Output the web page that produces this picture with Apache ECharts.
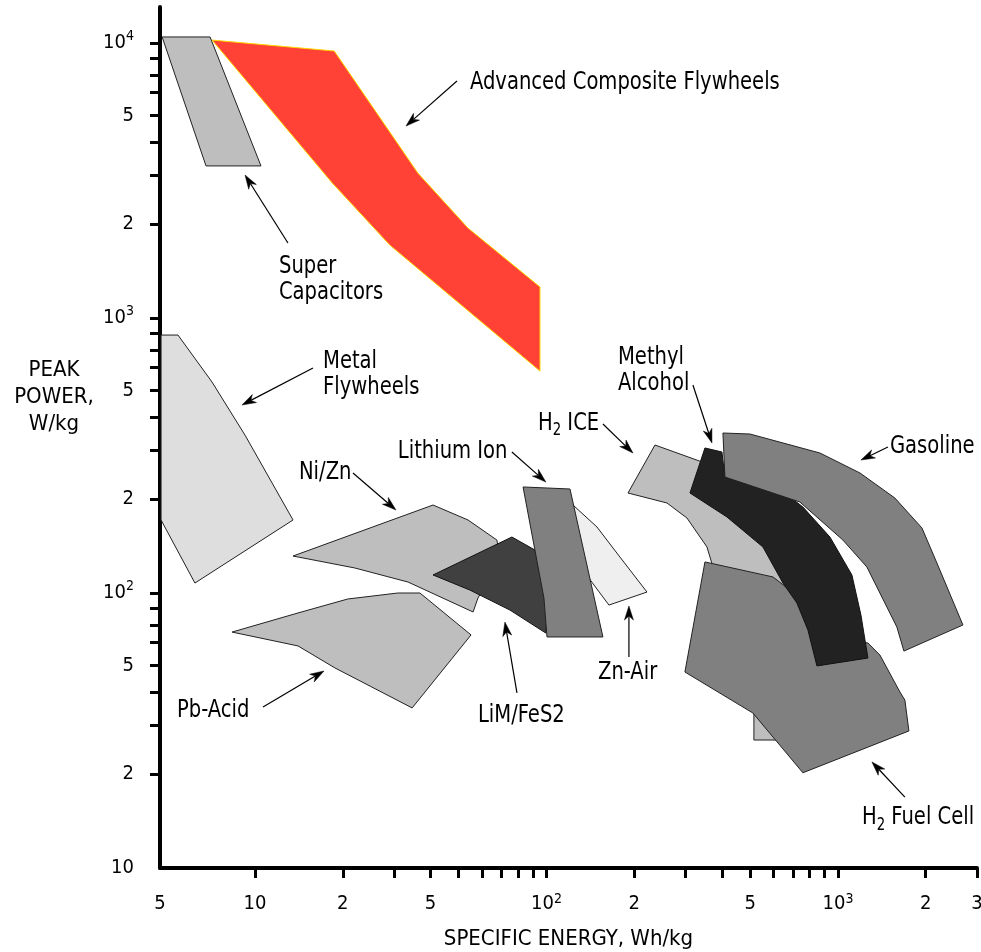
<!DOCTYPE html>
<html><head><meta charset="utf-8">
<script src="https://cdn.jsdelivr.net/npm/echarts@6/dist/echarts.min.js"></script>
<style>html,body{margin:0;padding:0;background:#fff}#c{width:981px;height:952px}</style>
</head><body><div id="c"></div>
<script>
const FONT = "'DejaVu Sans Condensed','DejaVu Sans',sans-serif";

// Region outlines: [specific energy (Wh/kg), peak power (W/kg)]
const superCapacitors = [[4.80,10520],[7.01,10520],[10.48,3573],[6.79,3573]];
const compositeFlywheels = [[7.12,10250],[18.7,9354],[36.2,3365],[53.8,2123],[95.0,1297],[95.0,641],[29.0,1841],[18.4,3097]];
const metalFlywheels = [[4.76,867],[5.44,867],[7.12,585],[9.24,375],[13.5,184.3],[6.22,108.7],[4.76,184.3]];
const pbAcid = [[8.34,72.1],[14.04,84.6],[20.8,95.1],[30.9,100],[36.8,100],[55.1,70.4],[34.6,38.2],[18.8,53.4],[14.04,64.2]];
const niZn = [[13.5,136.3],[40.8,208.9],[53.8,184.3],[67.6,155.8],[69.3,131.8],[58.2,95.9],[56.0,85.3],[33.5,109.6],[22.0,123.3]];
const limFeS2 = [[40.8,116.3],[76.1,159.8],[91.3,143.3],[101.2,94.3],[99.5,71.5],[74.9,86.7],[54.6,102.5]];
const znAir = [[123.3,208.9],[149.0,173.8],[178.6,135.2],[221.2,100.8],[163.8,90.4],[138.8,114.4],[125.2,143.3]];
const lithiumIon = [[83.1,243.0],[120.4,238.9],[156.2,69.2],[100.4,69.2],[98.0,95.9]];
const h2ICE = [[235.6,345.3],[349.7,297.0],[479.7,217.8],[632.3,131.8],[740.4,79.8],[684.2,44.4],[617.5,29.2],[514.8,29.2],[514.8,40.8],[461.1,62.0],[393.6,102.5],[355.3,147.0],[303.3,187.4],[259.0,212.5],[190.4,231.0]];
const h2FuelCell = [[349.7,129.7],[598.3,114.4],[684.2,102.5],[833.7,79.8],[1099,67.5],[1267,65.8],[1393,59.5],[1632,43.65],[1697,40.8],[1752,31.5],[758.2,22.2],[510.8,36.6],[298.5,51.6]];
const methylAlcohol = [[349.7,336.8],[399.9,325.7],[409.5,264.1],[684.2,223.4],[758.2,205.5],[938.6,159.8],[1116.6,116.3],[1199,83.2],[1267,58.0],[847.1,54.3],[788.9,73.4],[723.1,92.0],[647.5,108.7],[552.9,147.0],[416.0,189.0],[310.6,231.0]];
const gasoline = [[403.1,381.8],[498.9,378.6],[867.4,322.9],[1190,273.2],[1568,221.5],[1942,172.4],[2185,128.6],[2684,76.5],[1684,61.5],[1593,75.2],[1257,124.3],[1040,155.8],[740.4,214.2],[409.5,264.1]];

// Axis ticks and labels
const xTickValues = [10,20,30,40,50,60,70,80,90,100,200,300,400,500,600,700,800,900,1000,2000,2999.9];
const xLabelValues = [4.7201,10,20,40,100,200,500,1000,2000,2999.9];
const xLabelTexts = ['5','10','2','5','10{sup|2}','2','5','10{sup|3}','2','3'];
const yTickMantissas = [2.2,3.3,4.35,5.45,6.6,7.65,8.8];
const yDecades = [10,100,1000];
const yMajorTicks = [100,1000,10000];
const yLabelValues = [10.001,22,54.5,100,220,545,1000,2200,5450,10000];
const yLabelTexts = ['10','2','5','10{sup|2}','2','5','10{sup|3}','2','5','10{sup|4}'];

// Annotations (data coordinates)
const annotations = [
  {text:'Advanced Composite Flywheels', at:[54.6,7211], from:[49.3,7275], to:[32.96,4991]},
  {text:'Super\nCapacitors', at:[12.08,1375], from:[12.97,1874], to:[9.24,3311]},
  {text:'Metal\nFlywheels', at:[17.11,623], from:[15.81,658], to:[9.02,482.7]},
  {text:'Ni/Zn', at:[14.15,273.2], from:[21.68,273.2], to:[30.45,200.4]},
  {text:'Pb-Acid', at:[5.40,37.5], from:[10.65,38.5], to:[17.24,52.05]},
  {text:'Lithium Ion', at:[30.9,325.7], from:[76.1,325.7], to:[99.5,253.3]},
  {text:'LiM/FeS2', at:[58.2,36.0], from:[79.2,43.3], to:[72.0,78.4]},
  {text:'Zn-Air', at:[150.2,51.6], from:[191.8,58.5], to:[191.8,89.7]},
  {text:'H{s|2} ICE', at:[93.5,415.1], from:[156.2,411.6], to:[198.0,322.9]},
  {text:'Methyl\nAlcohol', at:[175.9,644.5], from:[318.0,570.7], to:[369.6,351.2]},
  {text:'Gasoline', at:[1508,342.3], from:[1484,339.5], to:[1199,304.5]},
  {text:'H{s|2} Fuel Cell', at:[1209,15.2], from:[1697,18.1], to:[1308,24.3]}
];

const LIGHT = '#bebebe', MID = '#808080';
const regions = [
  {name:'Super Capacitors', pts:superCapacitors, fill:LIGHT, stroke:'#222'},
  {name:'Advanced Composite Flywheels', pts:compositeFlywheels, fill:'#ff4136', stroke:'#ffd800'},
  {name:'Metal Flywheels', pts:metalFlywheels, fill:'#dedede', stroke:'#222'},
  {name:'Pb-Acid', pts:pbAcid, fill:LIGHT, stroke:'#222'},
  {name:'Ni/Zn', pts:niZn, fill:LIGHT, stroke:'#222'},
  {name:'LiM/FeS2', pts:limFeS2, fill:'#404040', stroke:'#111'},
  {name:'Zn-Air', pts:znAir, fill:'#efefef', stroke:'#222'},
  {name:'Lithium Ion', pts:lithiumIon, fill:MID, stroke:'#222'},
  {name:'H2 ICE', pts:h2ICE, fill:LIGHT, stroke:'#222'},
  {name:'H2 Fuel Cell', pts:h2FuelCell, fill:MID, stroke:'#222'},
  {name:'Methyl Alcohol', pts:methylAlcohol, fill:'#222222', stroke:'#111'},
  {name:'Gasoline', pts:gasoline, fill:MID, stroke:'#222'}
];

const yTickValues = [];
yDecades.forEach(d => yTickMantissas.forEach(m => yTickValues.push(m * d)));
yMajorTicks.forEach(v => yTickValues.push(v));

function lookup(vals, texts, v) {
  let best = 0, bd = Infinity;
  vals.forEach((x, i) => { const d = Math.abs(Math.log(x) - Math.log(v)); if (d < bd) { bd = d; best = i; } });
  return texts[best];
}

const chart = echarts.init(document.getElementById('c'), null, {renderer:'canvas'});
chart.setOption({
  animation: false,
  backgroundColor: '#fff',
  grid: {left:160, top:7, width:817, height:861, containLabel:false, outerBoundsMode:'none'},
  xAxis: {
    type:'log', logBase:10, min:4.72, max:3000,
    axisLine:{onZero:false, lineStyle:{color:'#000', width:4}},
    axisTick:{customValues:xTickValues, length:10, lineStyle:{color:'#000', width:3}},
    axisLabel:{customValues:xLabelValues, margin:21, color:'#000', fontSize:20, fontFamily:FONT, lineHeight:30,
      formatter: v => lookup(xLabelValues, xLabelTexts, v),
      rich:{sup:{fontSize:14, fontFamily:FONT, color:'#000', lineHeight:14, padding:[0,0,10,0]}}},
    splitLine:{show:false}, minorTick:{show:false},
    name:'SPECIFIC ENERGY, Wh/kg', nameLocation:'middle', nameGap:60,
    nameTextStyle:{color:'#000', fontSize:22, fontFamily:FONT}
  },
  yAxis: {
    type:'log', logBase:10, min:10, max:13520,
    axisLine:{onZero:false, lineStyle:{color:'#000', width:4}},
    axisTick:{customValues:yTickValues, length:10, lineStyle:{color:'#000', width:3}},
    axisLabel:{customValues:yLabelValues, margin:26, color:'#000', fontSize:20, fontFamily:FONT, lineHeight:30,
      formatter: v => lookup(yLabelValues, yLabelTexts, v),
      rich:{sup:{fontSize:14, fontFamily:FONT, color:'#000', lineHeight:14, padding:[0,0,14,0]}}},
    splitLine:{show:false}, minorTick:{show:false},
    name:'PEAK\nPOWER,\nW/kg', nameLocation:'middle', nameGap:106, nameRotate:0,
    nameTextStyle:{color:'#000', fontSize:22, fontFamily:FONT, align:'center', verticalAlign:'bottom', lineHeight:27}
  },
  series: [
    {
      type:'custom', name:'regions', clip:false,
      data: regions.map(r => r.pts[0]),
      renderItem: (params, api) => {
        const r = regions[params.dataIndex];
        return {type:'polygon', shape:{points:r.pts.map(p => api.coord(p))},
          style:{fill:r.fill, stroke:r.stroke, lineWidth:1}};
      }
    },
    {
      type:'custom', name:'annotations', clip:false,
      data: annotations.map(a => a.at),
      renderItem: (params, api) => {
        const a = annotations[params.dataIndex];
        const p = api.coord(a.at), f = api.coord(a.from), t = api.coord(a.to);
        let dx = t[0]-f[0], dy = t[1]-f[1]; const len = Math.hypot(dx, dy); dx/=len; dy/=len;
        const L = 14, W = 4.5, N = 4;
        const bx = t[0]-L*dx, by = t[1]-L*dy;
        const head = [t, [bx - W*dy, by + W*dx], [t[0]-(L-N)*dx, t[1]-(L-N)*dy], [bx + W*dy, by - W*dx]];
        return {type:'group', children:[
          {type:'polyline', shape:{points:[f, [t[0]-(L-N)*dx, t[1]-(L-N)*dy]]}, style:{stroke:'#000', lineWidth:1.2, fill:null}},
          {type:'polygon', shape:{points:head}, style:{fill:'#000', stroke:'#000', lineWidth:0.5}},
          {type:'text', x:p[0], y:p[1], scaleX:0.87, style:{text:a.text, font:'25px ' + FONT, fill:'#000', align:'left', verticalAlign:'middle', lineHeight:26,
            rich:{s:{font:'17px ' + FONT, fill:'#000', padding:[16,0,0,0]}}}}
        ]};
      }
    }
  ]
});
</script></body></html>
